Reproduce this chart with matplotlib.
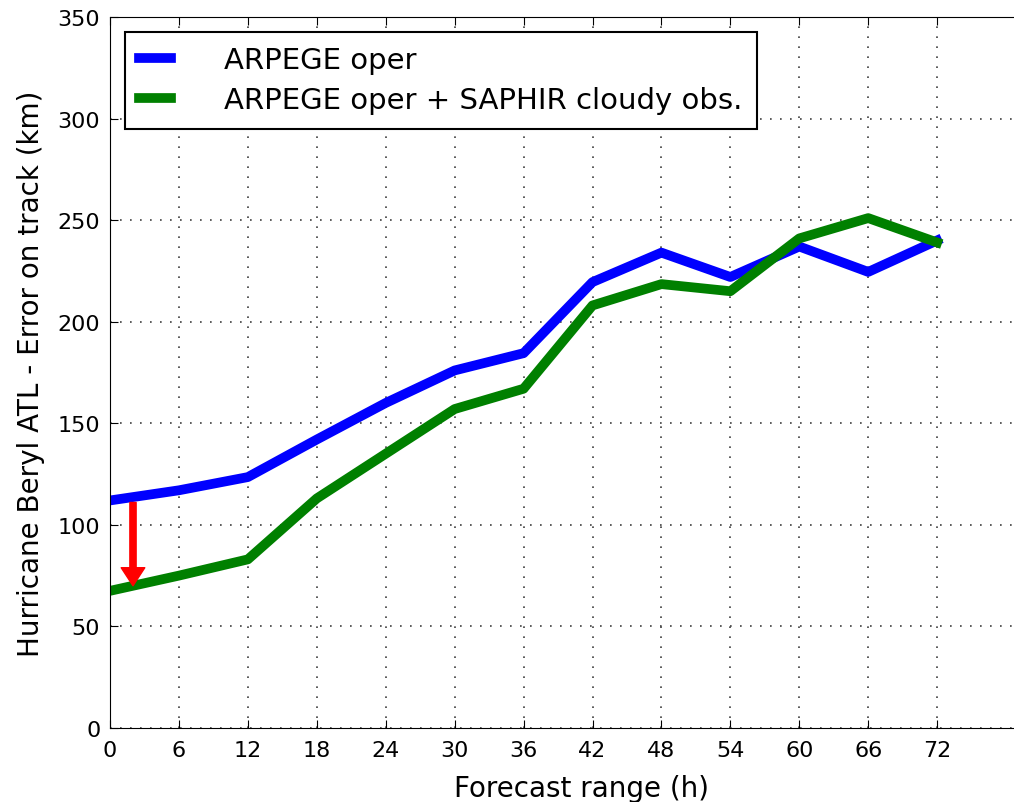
import matplotlib
matplotlib.use("Agg")
import matplotlib.pyplot as plt

hours = [0, 6, 12, 18, 24, 30, 36, 42, 48, 54, 60, 66, 72]
oper = [112, 117, 123.5, 142, 160, 176, 184.5, 219.5, 234, 222, 237, 224.5, 240]
saphir = [67.5, 75, 83, 113, 135, 157, 167, 208, 218.5, 215, 241, 251, 239]

fig = plt.figure(figsize=(10.14, 8.03), dpi=100)
# axes runs past the right edge of the picture, like the original crop
ax = fig.add_axes([0.1085, 0.0922, 0.929, 0.8854])

ax.plot(hours, oper, color="blue", lw=7, label="ARPEGE oper")
ax.plot(hours, saphir, color="green", lw=7, label="ARPEGE oper + SAPHIR cloudy obs.")

# gain at t=0
ax.annotate("", xy=(2, 70), xytext=(2, 111),
            arrowprops=dict(facecolor="red", edgecolor="red", width=4.5,
                            headwidth=17, headlength=13, shrink=0))

ax.set_xlim(0, 82)
ax.set_ylim(0, 350)
ax.set_xticks(hours)
ax.set_yticks(range(0, 351, 50))
ax.grid(True, color="0.25", linestyle=(0, (1, 5)), linewidth=1.2)
ax.tick_params(direction="in", top=True, right=True, labelsize=16, length=6)
ax.tick_params(axis="x", pad=9)
ax.tick_params(axis="y", pad=7)
ax.set_xlabel("Forecast range (h)", fontsize=20, labelpad=10)
ax.set_ylabel("Hurricane Beryl ATL - Error on track (km)", fontsize=20, labelpad=9)
leg = ax.legend(loc="upper left", fontsize=21, fancybox=False, edgecolor="black",
                handlelength=1.1, handletextpad=1.8, borderpad=0.5,
                labelspacing=0.42)
leg.get_frame().set_linewidth(1.5)
leg.get_frame().set_alpha(1)

fig.savefig("out.png", dpi=100)
